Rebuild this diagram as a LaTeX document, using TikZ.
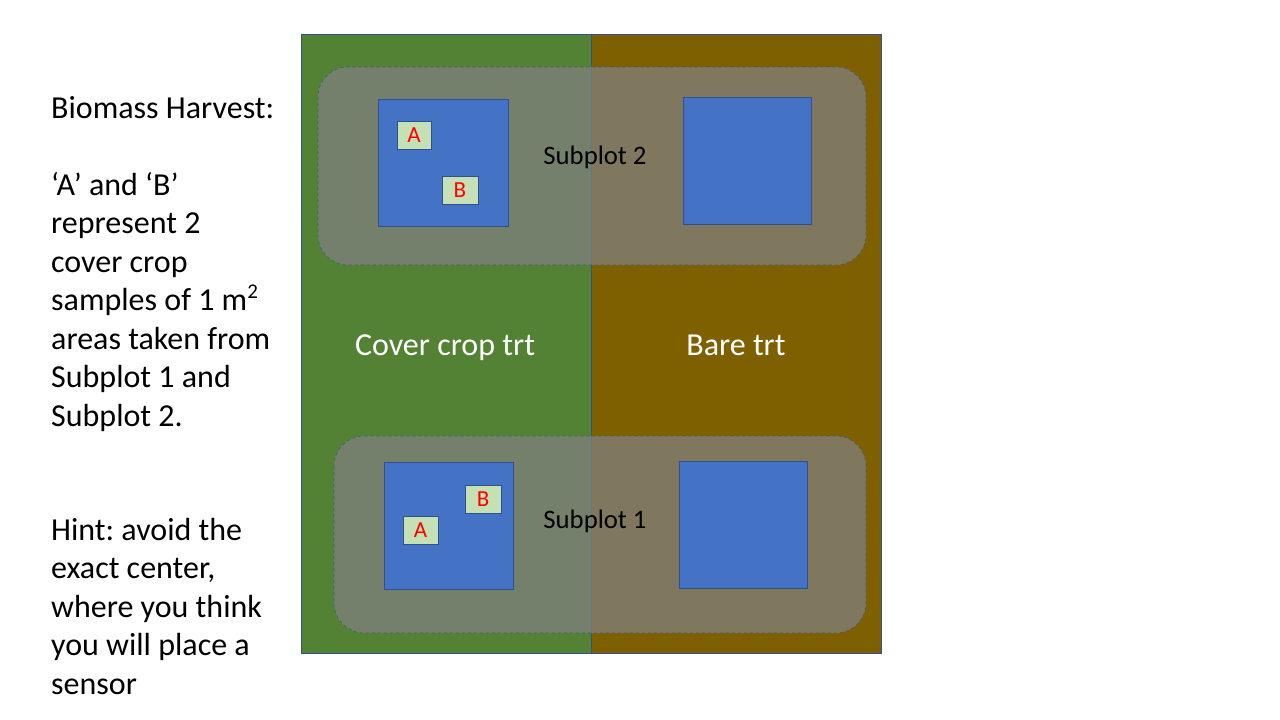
\documentclass[tikz,border=0pt]{standalone}
\usepackage{fontspec}
\setmainfont{Carlito}
\frenchspacing
\definecolor{fgreen}{HTML}{548235}
\definecolor{fbrown}{HTML}{7F6000}
\definecolor{ovgray}{RGB}{128,128,128}
\definecolor{pblue}{HTML}{4472C4}
\definecolor{bline}{HTML}{2F528F}
\definecolor{sgreen}{HTML}{C5E0B4}
\definecolor{sred}{HTML}{FF0000}
\tikzset{
  half/.style={draw=bline, line width=0.6pt},
  band/.style={fill=ovgray, fill opacity=0.74, draw=bline, draw opacity=0.8, dashed, line width=0.6pt, rounded corners=30pt},
  plotsq/.style={fill=pblue, draw=bline, line width=0.8pt},
  sample/.style={fill=sgreen, draw=bline, line width=0.8pt},
  samplelbl/.style={text=sred, font=\fontsize{23}{26}\selectfont, inner sep=0pt},
  sublbl/.style={anchor=base, text=black, font=\fontsize{26.7}{30}\selectfont, inner sep=0pt},
  trtlbl/.style={anchor=base, text=white, font=\fontsize{32}{36}\selectfont, inner sep=0pt},
  bodytxt/.style={anchor=base west, font=\fontsize{32}{38.5}\selectfont, inner sep=0pt}
}
\begin{document}
\begin{tikzpicture}[x=1pt,y=-1pt]
\useasboundingbox (0,0) rectangle (1280,720);
% field halves
\path[fill=fgreen,half] (301,34) rectangle (591,653);
\path[fill=fbrown,half] (591,34) rectangle (881,653);
% subplot bands
\path[band] (318,67) rectangle (866,265);
\path[band] (334,436) rectangle (866,633);
% plot squares
\path[plotsq] (378,99) rectangle (508,226);
\path[plotsq] (683,97) rectangle (811,224);
\path[plotsq] (384,462) rectangle (513,589);
\path[plotsq] (679,461) rectangle (807,588);
% samples
\path[sample] (397,121) rectangle (431,149);
\node[samplelbl] (tA) at (414,135) {A};
\path[sample] (442.5,176) rectangle (478,204);
\node[samplelbl] (tB) at (460,190) {B};
\path[sample] (465.5,485) rectangle (501,513);
\node[samplelbl] (bB) at (483,499) {B};
\path[sample] (403,516) rectangle (438,544);
\node[samplelbl] (bA) at (420.5,530) {A};
% labels
\node[sublbl] (sp2) at (595,164) {Subplot 2};
\node[sublbl] (sp1) at (595,528) {Subplot 1};
\node[trtlbl] (cc) at (445,355) {Cover crop trt};
\node[trtlbl] (bare) at (736,355) {Bare trt};
% left text
\node[bodytxt] (l1) at (51,118) {Biomass Harvest:};
\node[bodytxt] (l3) at (51,195) {‘A’ and ‘B’};
\node[bodytxt] (l4) at (51,233.5) {represent 2};
\node[bodytxt] (l5) at (51,272) {cover crop};
\node[bodytxt] (l6) at (51,310.5) {samples of 1 m\raisebox{0.38em}{\fontsize{21}{21}\selectfont 2}};
\node[bodytxt] (l7) at (51,349) {areas taken from};
\node[bodytxt] (l8) at (51,387.5) {Subplot 1 and};
\node[bodytxt] (l9) at (51,426) {Subplot 2.};
\node[bodytxt] (h1) at (51,540) {Hint: avoid the};
\node[bodytxt] (h2) at (51,578.5) {exact center,};
\node[bodytxt] (h3) at (51,617) {where you think};
\node[bodytxt] (h4) at (51,655.5) {you will place a};
\node[bodytxt] (h5) at (51,694) {sensor};
\end{tikzpicture}
\end{document}
